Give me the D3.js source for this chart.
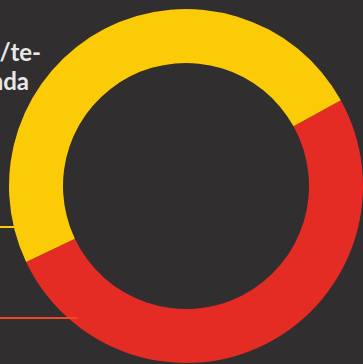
<!DOCTYPE html>
<html>
<head>
<meta charset="utf-8">
<script src="https://cdn.jsdelivr.net/npm/d3@7"></script>
<style>
  html, body { margin: 0; padding: 0; background: #302e2f; overflow: hidden; }
  svg { display: block; }
</style>
</head>
<body>
<svg id="chart" width="363" height="364"></svg>
<script>
// Datos del gráfico
const categorias = ["rojo", "amarillo"];
const valores = [51, 49];
const colores = ["#e42c24", "#fccb08"];
const etiquetas = ["/te-", "nda"];

const svg = d3.select("#chart");
const width = +svg.attr("width");
const height = +svg.attr("height");

// fondo
svg.append("rect")
  .attr("width", width)
  .attr("height", height)
  .attr("fill", "#302e2f");

// texto cortado arriba a la izquierda
svg.selectAll(".etiqueta")
  .data(etiquetas)
  .enter()
  .append("text")
  .attr("class", "etiqueta")
  .attr("x", (d, i) => i === 0 ? 41 : 29)
  .attr("y", (d, i) => 61 + i * 29)
  .attr("text-anchor", "end")
  .style("font-family", "Lato, sans-serif")
  .style("font-weight", "bold")
  .style("font-size", "24px")
  .style("fill", "#e8e8e8")
  .text(d => d);

// Donut
const cx = 186, cy = 186;
const pie = d3.pie()
  .sort(null)
  .startAngle(61 * Math.PI / 180)
  .endAngle(61 * Math.PI / 180 + 2 * Math.PI);

const arc = d3.arc()
  .innerRadius(123)
  .outerRadius(177);

const datos = categorias.map((c, i) => ({ categoria: c, valor: valores[i], color: colores[i] }));

const g = svg.append("g").attr("transform", `translate(${cx},${cy})`);

g.selectAll("path")
  .data(pie.value(d => d.valor)(datos))
  .enter()
  .append("path")
  .attr("d", arc)
  .attr("fill", d => d.data.color);

// Líneas guía
const lineas = [
  { y: 227, x2: 22, color: "#fccb08" },
  { y: 318, x2: 77, color: "#ee4a2a" }
];

svg.selectAll(".guia")
  .data(lineas)
  .enter()
  .append("line")
  .attr("class", "guia")
  .attr("x1", 0)
  .attr("x2", d => d.x2)
  .attr("y1", d => d.y)
  .attr("y2", d => d.y)
  .style("stroke", d => d.color)
  .style("stroke-width", 2);
</script>
</body>
</html>
